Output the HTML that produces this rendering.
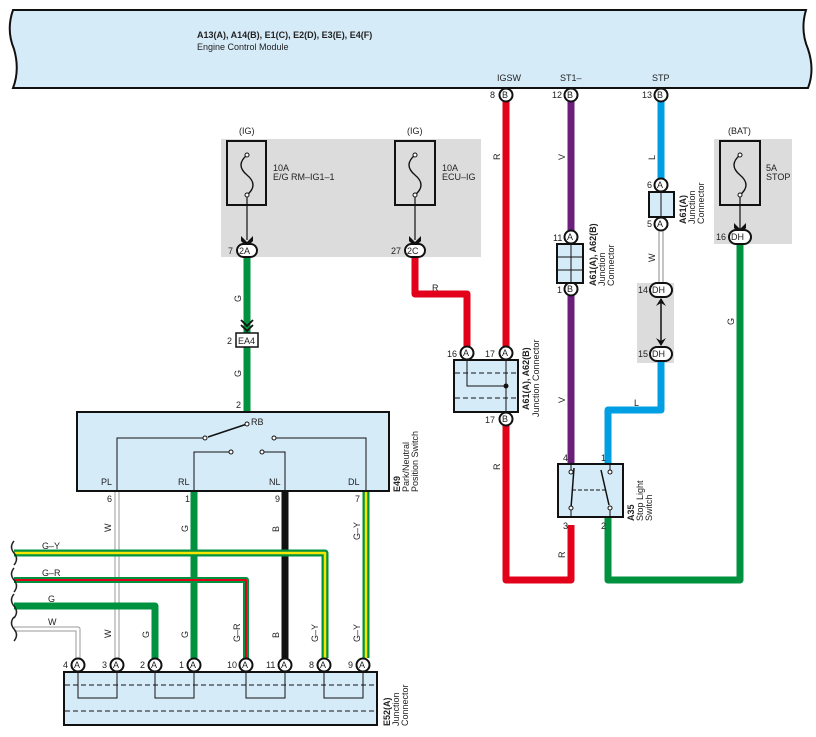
<!DOCTYPE html>
<html><head><meta charset="utf-8"><style>
body{margin:0;background:#fff}
svg{display:block}
text{font-family:"Liberation Sans",sans-serif;font-size:9px;fill:#222}
.b{font-weight:bold}
</style></head><body>
<svg width="816" height="737" viewBox="0 0 816 737" xmlns="http://www.w3.org/2000/svg">
<!-- ECM -->
<path d="M13,10 L806,10 Q800,30 808,49 Q815,70 808,88 L13,88 Q20,70 14,49 Q6,30 13,10Z" fill="#d6ebf8" stroke="#111" stroke-width="2"/>
<text x="197" y="38" class="b">A13(A), A14(B), E1(C), E2(D), E3(E), E4(F)</text>
<text x="197" y="50">Engine Control Module</text>
<text x="497" y="81">IGSW</text><text x="560" y="81">ST1–</text><text x="652" y="81">STP</text>

<!-- gray fuse areas -->
<rect x="221" y="139" width="260" height="118" fill="#dcdcdc"/>
<rect x="714" y="139" width="78" height="105" fill="#dcdcdc"/>
<rect x="637" y="283" width="37" height="80" fill="#dcdcdc"/>

<!-- wires -->
<g fill="none" stroke-linejoin="round">
<path d="M506,100 V348" stroke="#e2001a" stroke-width="7"/>
<path d="M415,257 V294 H467 V348" stroke="#e2001a" stroke-width="7"/>
<path d="M506,425 V580 H571 V525" stroke="#e2001a" stroke-width="7"/>
<path d="M571,100 V232" stroke="#6b1f7b" stroke-width="7"/>
<path d="M571,295 V465" stroke="#6b1f7b" stroke-width="7"/>
<path d="M661,100 V179" stroke="#009fe3" stroke-width="7"/>
<path d="M661,360 V410 H608 V465" stroke="#009fe3" stroke-width="7"/>
<path d="M661,230 V283" stroke="#888" stroke-width="5"/><path d="M661,230 V283" stroke="#fff" stroke-width="3"/>
<path d="M608,517 V580 H740 V243" stroke="#00923f" stroke-width="7"/>
<path d="M247,257 V333" stroke="#00923f" stroke-width="7"/>
<path d="M247,347 V412" stroke="#00923f" stroke-width="7"/>
<path d="M117,491 V658" stroke="#999" stroke-width="5"/><path d="M117,491 V658" stroke="#fff" stroke-width="3"/>
<path d="M194,491 V658" stroke="#00923f" stroke-width="7"/>
<path d="M285,491 V658" stroke="#111" stroke-width="7"/>
<path d="M366,491 V658" stroke="#00923f" stroke-width="7"/><path d="M366,491 V658" stroke="#f5e600" stroke-width="2.5"/>
<path d="M14,553 H325 V658" stroke="#00923f" stroke-width="7"/><path d="M14,553 H325 V658" stroke="#f5e600" stroke-width="2.5"/>
<path d="M14,580 H246 V658" stroke="#00923f" stroke-width="6"/><path d="M14,580 H246 V658" stroke="#e2001a" stroke-width="2"/>
<path d="M14,606 H155 V658" stroke="#00923f" stroke-width="7"/>
<path d="M14,629 H78 V658" stroke="#999" stroke-width="5"/><path d="M14,629 H78 V658" stroke="#fff" stroke-width="3"/>
</g>
<!-- braces -->
<g fill="none" stroke="#222" stroke-width="1.5">
<path d="M14,541 q-5,6 0,12 q5,6 0,12"/>
<path d="M14,568 q-5,6 0,12 q5,6 0,12"/>
<path d="M14,594 q-5,6 0,12 q5,6 0,12"/>
<path d="M14,617 q-5,6 0,12 q5,6 0,12"/>
</g>

<!-- fuses -->
<g stroke="#111" fill="none">
<rect x="227" y="141" width="39" height="64" stroke-width="2"/>
<rect x="395" y="141" width="40" height="64" stroke-width="2"/>
<rect x="720" y="141" width="40" height="64" stroke-width="2"/>
<path d="M247,155 q-12,10 0,20 q12,10 0,20" stroke-width="1.4"/>
<path d="M415,155 q-12,10 0,20 q12,10 0,20" stroke-width="1.4"/>
<path d="M740,155 q-12,10 0,20 q12,10 0,20" stroke-width="1.4"/>
<path d="M247,195 V240 M415,195 V240 M740,195 V230" stroke-width="1.2"/>
</g>
<g fill="#111">
<path d="M241,236 L247,242 L253,236 L253,241 L247,247 L241,241Z"/>
<path d="M409,236 L415,242 L421,236 L421,241 L415,247 L409,241Z"/>
<path d="M734,223 L740,229 L746,223 L746,228 L740,234 L734,228Z"/>
</g>
<g fill="#fff" stroke="#111" stroke-width="1"><circle cx="247" cy="155" r="2"/><circle cx="247" cy="195" r="2"/><circle cx="415" cy="155" r="2"/><circle cx="415" cy="195" r="2"/><circle cx="740" cy="155" r="2"/><circle cx="740" cy="195" r="2"/></g>
<text x="239" y="134">(IG)</text><text x="407" y="134">(IG)</text><text x="728" y="134">(BAT)</text>
<text x="273" y="171">10A</text><text x="273" y="180">E/G RM–IG1–1</text>
<text x="442" y="171">10A</text><text x="442" y="180">ECU–IG</text>
<text x="766" y="171">5A</text><text x="766" y="180">STOP</text>

<g fill="#fff" stroke="#111" stroke-width="2">
<rect x="237" y="244" width="20" height="13" rx="6.5"/>
<rect x="405" y="244" width="20" height="13" rx="6.5"/>
<rect x="729" y="230" width="22" height="14" rx="7"/>
<rect x="650" y="283" width="22" height="14" rx="7"/>
<rect x="650" y="347" width="22" height="14" rx="7"/>
</g>
<text x="239" y="254">2A</text><text x="407" y="254">2C</text><text x="731" y="240">DH</text><text x="652" y="293">DH</text><text x="652" y="357">DH</text>
<text x="228" y="254">7</text><text x="391" y="254">27</text><text x="716" y="240">16</text><text x="638" y="293">14</text><text x="638" y="357">15</text>
<path d="M661,299 V345" stroke="#111" stroke-width="1.5"/>
<path d="M656,306 L661,298 L666,306 L661,303Z M656,338 L661,346 L666,338 L661,341Z" fill="#111"/>

<path d="M241,320 L247,326 L253,320 M241,325 L247,331 L253,325" stroke="#111" stroke-width="1.8" fill="none"/>
<rect x="236" y="333" width="22" height="14" fill="#fff" stroke="#111" stroke-width="1.5"/>
<text x="238" y="344">EA4</text><text x="227" y="344">2</text>

<g fill="#fff" stroke="#111" stroke-width="2">
<circle cx="506" cy="95" r="6.5"/><circle cx="571" cy="95" r="6.5"/><circle cx="661" cy="95" r="6.5"/>
<circle cx="467" cy="353" r="6.5"/><circle cx="506" cy="353" r="6.5"/><circle cx="506" cy="419" r="6.5"/>
<circle cx="571" cy="237" r="6.5"/><circle cx="571" cy="289" r="6.5"/>
<circle cx="661" cy="185" r="6.5"/><circle cx="661" cy="224" r="6.5"/>
<circle cx="78" cy="665" r="6.5"/><circle cx="117" cy="665" r="6.5"/><circle cx="155" cy="665" r="6.5"/><circle cx="194" cy="665" r="6.5"/>
<circle cx="246" cy="665" r="6.5"/><circle cx="285" cy="665" r="6.5"/><circle cx="324" cy="665" r="6.5"/><circle cx="363" cy="665" r="6.5"/>
</g>
<g style="font-size:8.5px">
<text x="502" y="98">B</text><text x="567" y="98">B</text><text x="657" y="98">B</text>
<text x="463" y="356">A</text><text x="502" y="356">A</text><text x="502" y="422">B</text>
<text x="567" y="240">A</text><text x="567" y="292">B</text>
<text x="657" y="188">A</text><text x="657" y="227">A</text>
<text x="74" y="668">A</text><text x="113" y="668">A</text><text x="151" y="668">A</text><text x="190" y="668">A</text>
<text x="242" y="668">A</text><text x="281" y="668">A</text><text x="320" y="668">A</text><text x="359" y="668">A</text>
</g>
<text x="490" y="98">8</text><text x="552" y="98">12</text><text x="642" y="98">13</text>
<text x="447" y="357">16</text><text x="485" y="357">17</text><text x="485" y="423">17</text>
<text x="553" y="241">11</text><text x="557" y="293">1</text>
<text x="647" y="188">6</text><text x="647" y="227">5</text>
<text x="63" y="668">4</text><text x="102" y="668">3</text><text x="140" y="668">2</text><text x="179" y="668">1</text>
<text x="227" y="668">10</text><text x="266" y="668">11</text><text x="309" y="668">8</text><text x="348" y="668">9</text>

<rect x="454" y="360" width="64" height="52" fill="#d6ebf8" stroke="#111" stroke-width="2"/>
<path d="M455,373 H517 M455,398 H517" stroke="#111" stroke-dasharray="5,3"/>
<path d="M467,360 V386 H506 M506,360 V412" stroke="#111" fill="none"/>
<circle cx="506" cy="386" r="2.5" fill="#111"/>
<rect x="557" y="244" width="26" height="39" fill="#d6ebf8" stroke="#111" stroke-width="2"/>
<path d="M571,244 V283 M558,257 H582 M558,270 H582" stroke="#111"/>
<rect x="649" y="192" width="25" height="25" fill="#d6ebf8" stroke="#111" stroke-width="2"/>
<path d="M661,192 V217" stroke="#111"/>

<rect x="558" y="464" width="65" height="53" fill="#d6ebf8" stroke="#111" stroke-width="2"/>
<path d="M571,464 V472 M571,508 V517 M610,464 V472 M610,508 V517" stroke="#111"/>
<path d="M574,468 L571,508 M601,470 L609,505" stroke="#111" stroke-width="1.5"/>
<path d="M572,490 H606" stroke="#111" stroke-dasharray="4,2"/>
<g fill="#fff" stroke="#111"><circle cx="571" cy="472" r="2"/><circle cx="571" cy="508" r="2"/><circle cx="610" cy="472" r="2"/><circle cx="610" cy="508" r="2"/></g>
<text x="563" y="461">4</text><text x="601" y="461">1</text><text x="563" y="529">3</text><text x="601" y="529">2</text>

<rect x="77" y="412" width="312" height="79" fill="#d6ebf8" stroke="#111" stroke-width="2"/>
<g stroke="#111" fill="none">
<path d="M117,491 V438 H205 M194,491 V452 H231 M285,491 V452 H262 M366,491 V438 H274"/>
<path d="M247,424 L208,437" stroke-width="1.5"/>
</g>
<g fill="#fff" stroke="#111"><circle cx="247" cy="424" r="2"/><circle cx="205" cy="438" r="2"/><circle cx="231" cy="452" r="2"/><circle cx="262" cy="452" r="2"/><circle cx="274" cy="438" r="2"/></g>
<text x="251" y="425">RB</text>
<text x="101" y="485">PL</text><text x="178" y="485">RL</text><text x="269" y="485">NL</text><text x="348" y="485">DL</text>
<text x="236" y="408">2</text>
<text x="107" y="502">6</text><text x="185" y="502">1</text><text x="275" y="502">9</text><text x="355" y="502">7</text>

<rect x="64" y="672" width="313" height="53" fill="#d6ebf8" stroke="#111" stroke-width="2"/>
<path d="M65,685 H376 M65,711 H376" stroke="#111" stroke-dasharray="5,3"/>
<path d="M78,672 V698 H117 V672 M155,672 V698 H194 V672 M246,672 V698 H285 V672 M324,672 V698 H363 V672" stroke="#111" fill="none"/>

<text x="42" y="549">G–Y</text><text x="42" y="576">G–R</text><text x="48" y="602">G</text><text x="48" y="625">W</text>
<text x="432" y="291">R</text><text x="634" y="406">L</text>
<g>
<text transform="translate(500,160) rotate(-90)">R</text>
<text transform="translate(565,160) rotate(-90)">V</text>
<text transform="translate(655,160) rotate(-90)">L</text>
<text transform="translate(655,262) rotate(-90)">W</text>
<text transform="translate(734,325) rotate(-90)">G</text>
<text transform="translate(241,302) rotate(-90)">G</text>
<text transform="translate(241,377) rotate(-90)">G</text>
<text transform="translate(565,403) rotate(-90)">V</text>
<text transform="translate(500,470) rotate(-90)">R</text>
<text transform="translate(565,558) rotate(-90)">R</text>
<text transform="translate(111,532) rotate(-90)">W</text>
<text transform="translate(111,638) rotate(-90)">W</text>
<text transform="translate(188,532) rotate(-90)">G</text>
<text transform="translate(188,638) rotate(-90)">G</text>
<text transform="translate(149,638) rotate(-90)">G</text>
<text transform="translate(279,532) rotate(-90)">B</text>
<text transform="translate(279,638) rotate(-90)">B</text>
<text transform="translate(240,642) rotate(-90)">G–R</text>
<text transform="translate(318,642) rotate(-90)">G–Y</text>
<text transform="translate(360,540) rotate(-90)">G–Y</text>
<text transform="translate(360,642) rotate(-90)">G–Y</text>
</g>
<g>
<text transform="translate(529,410) rotate(-90)" class="b">A61(A), A62(B)</text>
<text transform="translate(539,417) rotate(-90)">Junction Connector</text>
<text transform="translate(596,286) rotate(-90)" class="b">A61(A), A62(B)</text>
<text transform="translate(605,286) rotate(-90)">Junction</text>
<text transform="translate(614,286) rotate(-90)">Connector</text>
<text transform="translate(686,224) rotate(-90)" class="b">A61(A)</text>
<text transform="translate(695,224) rotate(-90)">Junction</text>
<text transform="translate(704,224) rotate(-90)">Connector</text>
<text transform="translate(634,521) rotate(-90)" class="b">A35</text>
<text transform="translate(643,521) rotate(-90)">Stop Light</text>
<text transform="translate(652,521) rotate(-90)">Switch</text>
<text transform="translate(400,492) rotate(-90)" class="b">E49</text>
<text transform="translate(409,492) rotate(-90)">Park/Neutral</text>
<text transform="translate(418,492) rotate(-90)">Position Switch</text>
<text transform="translate(390,726) rotate(-90)" class="b">E52(A)</text>
<text transform="translate(399,726) rotate(-90)">Junction</text>
<text transform="translate(408,726) rotate(-90)">Connector</text>
</g>
</svg>
</body></html>
